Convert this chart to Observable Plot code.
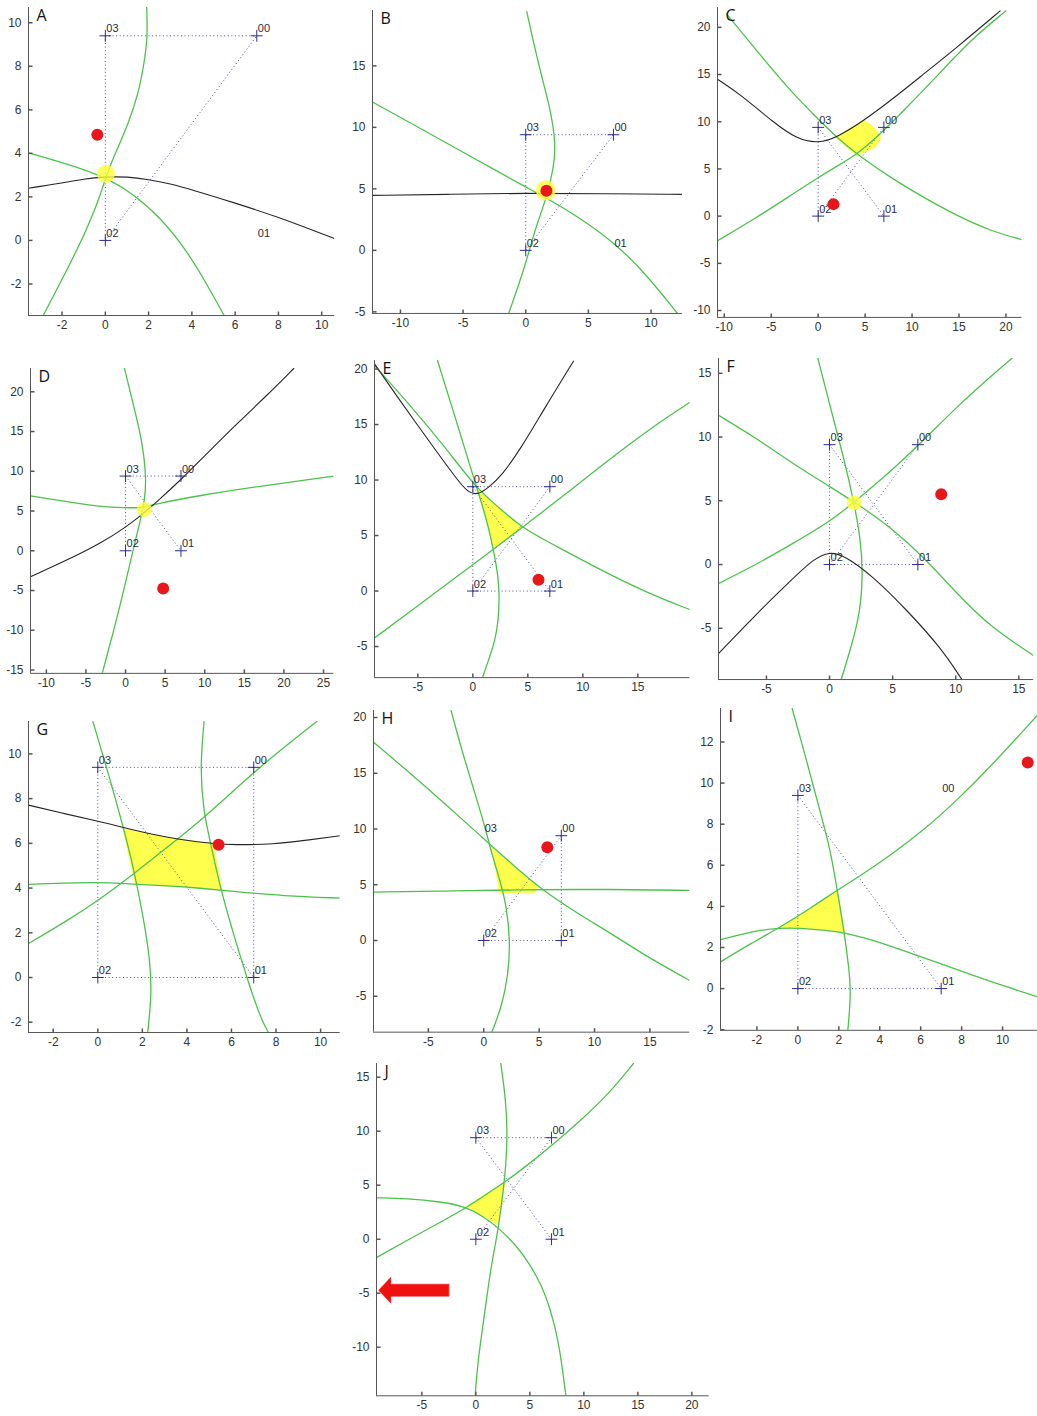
<!DOCTYPE html>
<html><head><meta charset="utf-8">
<script src="https://cdn.jsdelivr.net/npm/d3@7"></script>
<script src="https://cdn.jsdelivr.net/npm/@observablehq/plot@0.6"></script>
<style>
html,body{margin:0;padding:0;background:#fff;overflow:hidden;}
#page{position:relative;width:1037px;height:1416px;overflow:hidden;}
</style></head><body><div id="page"></div>
<script>
// ---------- sensors ----------
const sensorNames = ["00","01","02","03"];
const sensorX = [7, 7, 0, 0];
const sensorY = [9.4, 0, 0, 9.4];

// ---------- panel A ----------
const A_green1 = [[-2.87,-3.45],[-1.86,-1.53],[-0.94,0.31],[-0.25,1.99],[0.06,3.06],[0.52,4.13],[1.06,5.36],[1.53,6.74],[1.79,8.12],[1.96,9.34],[1.91,10.72]];
const A_green2 = [[-3.51,4.01],[-1.79,3.52],[0,2.91],[1.29,2.14],[2.53,1.07],[3.76,-0.46],[4.68,-1.99],[5.49,-3.45]];
const A_black = [[-3.56,2.4],[-2,2.63],[-1,2.83],[0,2.92],[1,2.93],[2,2.8],[3,2.6],[4,2.33],[6,1.72],[8,1.07],[10,0.31],[10.6,0.08]];
const A_blob = [[0.03,3.06]];
const A_red = [[-0.37,4.85]];
const A_links = [[3,0],[3,2],[2,0]];
const A_crosses = [0,2,3];

// ---------- panel B ----------
const B_green1 = [[0.08,19.4],[1.06,14.9],[2.0,11.4],[2.39,8.67],[2.26,6.78],[1.6,4.07],[0.8,1.9],[0,-1.08],[-0.8,-3.5],[-1.41,-5.28]];
const B_green2 = [[-12.23,12.06],[-9,10.24],[-5,7.98],[-2.5,6.56],[0,5.15],[2,4.05],[4,2.85],[7,0.7],[9.5,-1.8],[12.23,-5.28]];
const B_black = [[-12.23,4.47],[-6,4.55],[0,4.66],[6,4.6],[12.5,4.55]];
const B_blob = [[1.6,4.88]];
const B_red = [[1.65,4.85]];
const B_links = [[3,0],[3,2],[2,0]];
const B_crosses = [0,2,3];

// ---------- panel C ----------
const C_black = [[-10.72,14.5],[-8.31,12.92],[-4.76,9.92],[-2.27,8.15],[0,7.7],[1.99,8.33],[4.83,10.1],[7.67,12.2],[11.22,15.04],[14.77,17.86],[19.38,21.74]];
const C_green1 = [[-9.73,21.39],[-6.53,17.5],[-2.98,13.27],[0,10.27],[1.99,8.33],[4.12,6.57],[7.67,4.1],[11.22,1.98],[14.77,0.04],[18.32,-1.55],[21.7,-2.5]];
const C_green2 = [[-10.72,-2.61],[-6.53,-0.14],[-2.98,2.15],[0,4.09],[2.2,5.4],[4.12,6.57],[6.25,8.33],[9.44,11.5],[13,15.2],[16.5,18.9],[20,21.74]];
const C_region = [[1.9,8.35],[3.4,9.3],[4.9,10.15],[6.0,9.4],[6.7,8.3],[6.1,7.3],[4.12,6.4],[2.9,7.45]];
const C_red = [[1.63,1.27]];
const C_links = [[3,2],[3,1],[2,0]];
const C_crosses = [0,1,2,3];

// ---------- panel D ----------
const D_green1 = [[-0.13,22.93],[1.05,18.1],[2.1,13.9],[2.65,8.9],[2.4,6.37],[1.89,3.86],[0.84,-0.34],[-0.21,-4.95],[-1.47,-9.97],[-2.94,-15.4]];
const D_green2 = [[-12,6.92],[-7.36,6.16],[-3.16,5.53],[-0.21,5.4],[2.2,5.4],[3.6,5.85],[9.47,7.0],[17.88,8.26],[26.3,9.39]];
const D_black = [[-12,-3.27],[-7.36,-1.17],[-3.16,0.92],[0,2.95],[1.89,4.4],[4,6.2],[6.94,8.89],[10.3,12.24],[13.67,15.6],[17.88,19.57],[21.24,22.93]];
const D_blob = [[2.4,5.2]];
const D_red = [[4.75,-4.74]];
const D_links = [[3,0],[3,2],[3,1]];
const D_crosses = [0,1,2,3];

// ---------- panel E ----------
const E_black = [[-8.94,20.47],[-7.06,17.77],[-4.03,13.57],[-1.6,10.26],[-0.4,8.8],[0.5,8.7],[1.4,9.3],[2.64,10.41],[4.45,12.97],[6.58,16.57],[9.15,20.71]];
const E_green1 = [[-3.21,20.77],[-1.61,15.67],[0.06,10.26],[0.82,7.86],[1.42,5.76],[1.88,3.66],[2.27,1.56],[2.42,-0.24],[2.33,-2.64],[2.03,-4.44],[1.42,-6.24],[0.88,-7.8]];
const E_green2 = [[-8.94,20.32],[-5.55,16.57],[-2.52,12.97],[0.36,9.21],[2.33,7.56],[4.45,5.7],[7.18,4.26],[11.12,2.16],[15.67,-0.09],[19.76,-1.68]];
const E_green3 = [[-8.94,-4.23],[-5.55,-1.74],[-2.52,0.51],[0.52,2.76],[1.88,3.78],[4.45,5.7],[8.09,8.46],[12.64,12.06],[17.18,15.37],[19.76,17.02]];
const E_region = [[0.45,9.15],[2.33,7.56],[4.45,5.7],[3.2,4.75],[1.88,3.78],[1.42,5.76],[0.82,7.86]];
const E_red = [[5.97,1.02]];
const E_links = [[3,0],[2,1],[3,1],[2,0],[3,2]];
const E_crosses = [0,1,2,3];

// ---------- panel F ----------
const F_green1 = [[-0.92,16.16],[0.05,12.37],[1.11,8.44],[1.9,5.05],[2.48,1.91],[2.64,-0.7],[2.43,-3.84],[1.64,-6.72],[0.92,-9.02]];
const F_green2 = [[-8.8,11.71],[-5.76,9.88],[-3.12,8.05],[0.05,6.09],[2.17,4.78],[4.81,2.95],[7.45,0.6],[10.09,-2.27],[12.73,-4.89],[16.17,-7.14]];
const F_green3 = [[-8.8,-1.49],[-5.76,0.03],[-3.12,1.52],[0,3.35],[1.9,4.84],[4.81,7.27],[7.45,9.75],[10.09,12.37],[12.73,14.72],[14.58,16.29]];
const F_black = [[-8.8,-6.98],[-5.76,-3.84],[-3.12,-1.3],[-1.2,0.5],[0,1.0],[1.2,0.7],[3.49,-0.97],[6.13,-3.58],[8.77,-6.46],[10.49,-9.02]];
const F_blob = [[1.96,4.84]];
const F_red = [[8.85,5.52]];
const F_links = [[3,2],[2,1],[3,1],[2,0]];
const F_crosses = [0,1,2,3];

// ---------- panel G ----------
const G_green1 = [[-0.22,11.45],[0.4,9.39],[1.15,6.71],[1.6,4.92],[2.05,2.68],[2.35,0.75],[2.42,-0.75],[2.24,-2.46]];
const G_green2 = [[4.77,11.45],[4.59,9.39],[4.74,7.45],[5.04,6.11],[5.49,4.03],[6.09,1.94],[6.69,0],[7.29,-1.79],[7.66,-2.46]];
const G_green3 = [[-3.11,1.52],[-1.39,2.53],[0,3.43],[1.6,4.62],[3.1,5.81],[4.59,7.0],[6.09,8.35],[7.59,9.69],[9.83,11.45]];
const G_green4 = [[-3.11,4.17],[0,4.28],[1.6,4.17],[3.1,4.1],[4.59,4.0],[6.09,3.85],[8.33,3.65],[10.88,3.55]];
const G_black = [[-3.11,7.71],[-1.39,7.3],[0,7.0],[1.15,6.71],[2.35,6.41],[3.85,6.14],[5.19,5.99],[6.09,5.93],[7.89,5.96],[9.38,6.14],[10.88,6.34]];
const G_region = [[1.15,6.64],[3.1,6.27],[5.19,5.99],[5.57,3.95],[3.6,4.05],[1.68,4.2],[1.4,5.4]];
const G_red = [[5.42,5.94]];
const G_links = [[3,0],[3,2],[2,1],[0,1],[3,1]];
const G_crosses = [0,1,2,3];

// ---------- panel H ----------
const H_green1 = [[-2.95,20.63],[-1.98,17.05],[-0.78,13.16],[0.12,10.17],[0.72,7.78],[1.47,5.38],[2.08,2.99],[2.38,0],[2.23,-2.99],[1.62,-5.98],[0.72,-8.22]];
const H_green2 = [[-9.95,17.79],[-6.5,14.89],[-3.49,12.26],[-0.48,9.57],[0.72,8.46],[2.53,6.88],[5.23,4.55],[8.54,2.39],[11.55,0.6],[14.56,-1.35],[18.6,-3.59]];
const H_green3 = [[-9.95,4.34],[-3.49,4.43],[2.53,4.55],[11.55,4.6],[18.6,4.49]];
const H_region = [[0.72,8.3],[2.7,6.7],[4.87,4.85],[4.6,4.3],[1.4,4.25],[1.1,6.2]];
const H_red = [[5.74,8.37]];
const H_links = [[0,1],[2,1],[2,0]];
const H_crosses = [0,1,2];

// ---------- panel I ----------
const I_green1 = [[-0.28,13.63],[0.29,11.6],[0.94,9.16],[1.6,6.73],[1.92,4.79],[2.25,2.84],[2.49,1.05],[2.6,-0.24],[2.44,-2.03]];
const I_green2 = [[-3.78,1.3],[-2.31,2.19],[-0.85,3.0],[0.46,3.81],[1.92,4.79],[3.22,5.6],[4.53,6.49],[6.15,7.71],[7.78,9.17],[9.41,10.79],[11.7,13.3]];
const I_green3 = [[-3.78,2.38],[-1.99,2.84],[-0.85,2.95],[0,2.95],[1.27,2.84],[2.25,2.73],[3.71,2.35],[5.34,1.78],[6.97,1.22],[8.6,0.62],[10.22,0.08],[11.7,-0.4]];
const I_region = [[-0.85,2.98],[0.5,3.83],[1.92,4.79],[2.1,3.7],[2.28,2.76],[1.0,2.9]];
const I_red = [[11.23,11.0]];
const I_links = [[3,2],[2,1],[3,1]];
const I_crosses = [1,2,3];

// ---------- panel J ----------
const J_green1 = [[2.31,16.27],[2.78,12.87],[2.93,9.78],[2.78,6.7],[2.47,3.92],[2.01,0.52],[1.39,-2.56],[0.77,-7.19],[0.15,-11.51],[-0.06,-14.5]];
const J_green2 = [[-9.2,-1.7],[-6.33,-0.09],[-3.24,1.6],[-0.77,2.99],[1.08,4.23],[2.72,5.31],[4.78,6.85],[7.25,8.86],[9.72,11.02],[12.19,13.33],[14.6,16.27]];
const J_green3 = [[-9.2,3.83],[-6.33,3.77],[-3.24,3.46],[-1.08,3.06],[0.77,2.07],[2.16,0.99],[3.86,-0.71],[4.9,-2.2],[6.02,-4.1],[6.94,-6.57],[7.72,-9.66],[8.33,-14.44]];
const J_region = [[-0.83,3.06],[1.0,4.25],[2.65,5.2],[2.45,3.4],[2.05,1.35],[0.8,2.1]];
const J_arrow = [[-2.5,-4.16],[-7.87,-4.16],[-7.87,-3.52],[-9.0,-4.72],[-7.87,-5.92],[-7.87,-5.28],[-2.5,-5.28]];
const J_links = [[3,0],[3,1],[2,0]];
const J_crosses = [0,1,2,3];

// ---------- tick values ----------
const ticksA_x = [-2,0,2,4,6,8,10], ticksA_y = [-2,0,2,4,6,8,10];
const ticksB_x = [-10,-5,0,5,10], ticksB_y = [-5,0,5,10,15];
const ticksC_x = [-10,-5,0,5,10,15,20], ticksC_y = [-10,-5,0,5,10,15,20];
const ticksD_x = [-10,-5,0,5,10,15,20,25], ticksD_y = [-15,-10,-5,0,5,10,15,20];
const ticksE_x = [-5,0,5,10,15], ticksE_y = [-5,0,5,10,15,20];
const ticksF_x = [-5,0,5,10,15], ticksF_y = [-5,0,5,10,15];
const ticksG_x = [-2,0,2,4,6,8,10], ticksG_y = [-2,0,2,4,6,8,10];
const ticksH_x = [-5,0,5,10,15], ticksH_y = [-5,0,5,10,15,20];
const ticksI_x = [-2,0,2,4,6,8,10], ticksI_y = [-2,0,2,4,6,8,10,12];
const ticksJ_x = [-5,0,5,10,15,20], ticksJ_y = [-10,-5,0,5,10,15];

// ---------- layout (pixel origin & scale of each panel) ----------
const layout = [
  {letter:"A", ox:105.3, kx:21.64, oy:240,   ky:21.77, xdom:[-3.55,10.6], ydom:[-3.45,10.7], xt:ticksA_x, yt:ticksA_y,
   green:[A_green1,A_green2], black:[A_black], region:null, blob:A_blob, blobR:9, red:A_red, links:A_links, crosses:A_crosses},
  {letter:"B", ox:525,   kx:12.53, oy:250,   ky:12.3,  xdom:[-12.23,12.5], ydom:[-5.13,19.5], xt:ticksB_x, yt:ticksB_y,
   green:[B_green1,B_green2], black:[B_black], region:null, blob:B_blob, blobR:10, red:B_red, links:B_links, crosses:B_crosses},
  {letter:"C", ox:818,   kx:9.39,  oy:215.3, ky:9.44,  xdom:[-10.72,21.7], ydom:[-10.73,22.1], xt:ticksC_x, yt:ticksC_y,
   green:[C_green1,C_green2], black:[C_black], region:C_region, blob:[], red:C_red, links:C_links, crosses:C_crosses},
  {letter:"D", ox:125,   kx:7.92,  oy:550.7, ky:7.95,  xdom:[-12,26.3], ydom:[-15.42,22.93], xt:ticksD_x, yt:ticksD_y,
   green:[D_green1,D_green2], black:[D_black], region:null, blob:D_blob, blobR:7.5, red:D_red, links:D_links, crosses:D_crosses},
  {letter:"E", ox:472.7, kx:11,    oy:590.7, ky:11.1,  xdom:[-8.94,19.75], ydom:[-7.8,20.77], xt:ticksE_x, yt:ticksE_y,
   green:[E_green1,E_green2,E_green3], black:[E_black], region:E_region, blob:[], red:E_red, links:E_links, crosses:E_crosses},
  {letter:"F", ox:829.3, kx:12.62, oy:564.3, ky:12.75, xdom:[-8.8,16.17], ydom:[-9.02,16.16], xt:ticksF_x, yt:ticksF_y,
   green:[F_green1,F_green2,F_green3], black:[F_black], region:null, blob:F_blob, blobR:7.5, red:F_red, links:F_links, crosses:F_crosses},
  {letter:"G", ox:97.7,  kx:22.28, oy:976.7, ky:22.36, xdom:[-3.11,10.88], ydom:[-2.46,11.45], xt:ticksG_x, yt:ticksG_y,
   green:[G_green1,G_green2,G_green3,G_green4], black:[G_black], region:G_region, blob:[], red:G_red, links:G_links, crosses:G_crosses},
  {letter:"H", ox:483.7, kx:11.08, oy:940,   ky:11.15, xdom:[-9.95,18.6], ydom:[-8.22,20.63], xt:ticksH_x, yt:ticksH_y,
   green:[H_green1,H_green2,H_green3], black:[], region:H_region, blob:[], red:H_red, links:H_links, crosses:H_crosses},
  {letter:"I", ox:797.3, kx:20.47, oy:988.3, ky:20.55, xdom:[-3.78,11.7], ydom:[-2.03,13.63], xt:ticksI_x, yt:ticksI_y,
   green:[I_green1,I_green2,I_green3], black:[], region:I_region, blob:[], red:I_red, links:I_links, crosses:I_crosses},
  {letter:"J", ox:475,   kx:10.8,  oy:1239,  ky:10.8,  xdom:[-9.2,21.6], ydom:[-14.5,16.27], xt:ticksJ_x, yt:ticksJ_y,
   green:[J_green1,J_green2,J_green3], black:[], region:J_region, blob:[], red:[], links:J_links, crosses:J_crosses, arrow:J_arrow}
];

// ---------- styles ----------
const GREEN = "#4cc24c", BLACK = "#262626", YELLOW = "#ffff4d", RED = "#e8171c";
const NAVY = "#2b2b8f", LINK = "#4a4aa0", AXIS = "#555555", TXT = "#333333";
const ML = 34, MR = 6, MT = 6, MB = 24;
const fmt = d => d < 0 ? "-" + (-d) : String(d);
const tickUp = {draw(ctx){ ctx.moveTo(0,0); ctx.lineTo(0,-4); }};
const tickRight = {draw(ctx){ ctx.moveTo(0,0); ctx.lineTo(4,0); }};

const page = document.getElementById("page");
for (const p of layout) {
  const fl = p.ox + p.xdom[0]*p.kx;
  const fw = (p.xdom[1]-p.xdom[0])*p.kx;
  const ft = p.oy - p.ydom[1]*p.ky;
  const fh = (p.ydom[1]-p.ydom[0])*p.ky;
  const X = d => d[0], Y = d => d[1];
  const marks = [];
  if (p.region) marks.push(Plot.line(p.region, {x:X, y:Y, curve:"linear-closed", fill:YELLOW, stroke:YELLOW, strokeWidth:0.8}));
  if (p.arrow) marks.push(Plot.line(p.arrow, {x:X, y:Y, curve:"linear-closed", fill:"#f01010", stroke:"#f01010", strokeWidth:0.5}));
  marks.push(Plot.link(p.links, {x1:d=>sensorX[d[0]], y1:d=>sensorY[d[0]], x2:d=>sensorX[d[1]], y2:d=>sensorY[d[1]],
    stroke:LINK, strokeWidth:1, strokeDasharray:"1,2.6"}));
  for (const c of p.green) marks.push(Plot.line(c, {x:X, y:Y, curve:"basis", stroke:GREEN, strokeWidth:1.3, clip:true}));
  for (const c of p.black) marks.push(Plot.line(c, {x:X, y:Y, curve:"basis", stroke:BLACK, strokeWidth:1.1, clip:true}));
  if (p.blob.length) marks.push(Plot.dot(p.blob, {x:X, y:Y, r:p.blobR, fill:"#ffff3a", fillOpacity:0.8}));
  marks.push(Plot.dot(p.crosses, {x:i=>sensorX[i], y:i=>sensorY[i], symbol:"plus", r:3.9, stroke:NAVY, strokeWidth:1}));
  marks.push(Plot.text([0,1,2,3], {x:i=>sensorX[i], y:i=>sensorY[i], text:i=>sensorNames[i], textAnchor:"start", dx:1, dy:-7, fontSize:11, fill:"#2a2a40"}));
  if (p.red.length) marks.push(Plot.dot(p.red, {x:X, y:Y, r:6, fill:RED}));
  // axes
  marks.push(Plot.ruleX([p.xdom[0]], {stroke:AXIS, strokeWidth:1}));
  marks.push(Plot.ruleY([p.ydom[0]], {stroke:AXIS, strokeWidth:1}));
  marks.push(Plot.dot(p.xt, {x:d=>d, y:()=>p.ydom[0], symbol:tickUp, r:4, stroke:AXIS, fill:"none"}));
  marks.push(Plot.dot(p.yt, {x:()=>p.xdom[0], y:d=>d, symbol:tickRight, r:4, stroke:AXIS, fill:"none"}));
  marks.push(Plot.axisX(p.xt, {tickSize:0, tickPadding:5, fontSize:12, tickFormat:fmt, color:TXT, label:null}));
  marks.push(Plot.axisY(p.yt, {anchor:"left", tickSize:0, tickPadding:7, fontSize:12, tickFormat:fmt, color:TXT, label:null}));
  marks.push(Plot.text([p.letter], {frameAnchor:"top-left", text:d=>d, dx:8, dy:2, textAnchor:"start", lineAnchor:"top", fontSize:16, fill:"#111", fontFamily:"Open Sans"}));
  const svg = Plot.plot({
    width: fw + ML + MR, height: fh + MT + MB,
    marginLeft: ML, marginRight: MR, marginTop: MT, marginBottom: MB,
    x: {domain: p.xdom}, y: {domain: p.ydom},
    style: {fontFamily: "'Liberation Sans', Arial, sans-serif", background: "transparent", overflow: "visible"},
    marks
  });
  svg.style.position = "absolute";
  svg.style.left = (fl - ML) + "px";
  svg.style.top = (ft - MT) + "px";
  page.appendChild(svg);
}
</script></body></html>
